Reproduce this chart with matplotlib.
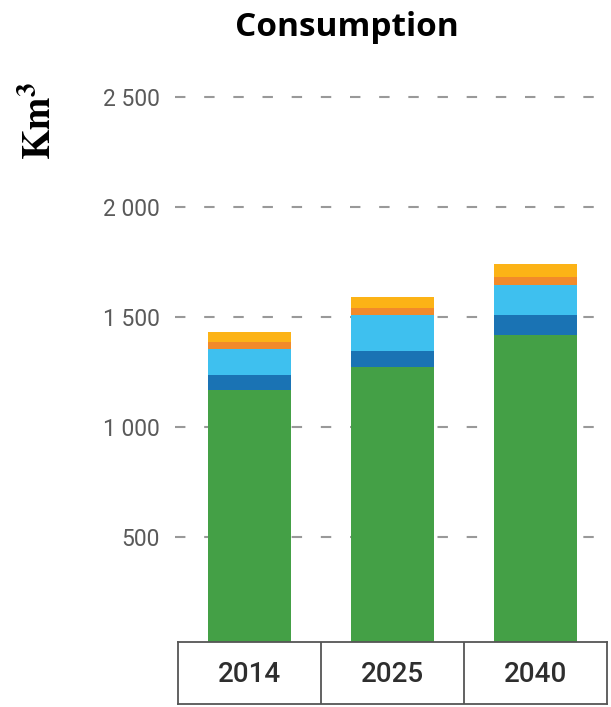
import matplotlib
matplotlib.use("Agg")
import matplotlib.pyplot as plt
import numpy as np

categories = ["2014", "2025", "2040"]
green = [1168, 1273, 1418]
dark_blue = [68, 72, 91]
light_blue = [119, 164, 136]
orange = [31, 32, 37]
yellow = [46, 50, 59]
yticks = [500, 1000, 1500, 2000, 2500]
ytick_labels = ["500", "1 000", "1 500", "2 000", "2 500"]

series = [green, dark_blue, light_blue, orange, yellow]
colors = ["#44a046", "#1a73b4", "#3ec0ef", "#f28a2a", "#fcb316"]

plt.rcParams['mathtext.fontset'] = 'stix'
fig = plt.figure(figsize=(6.11, 7.07), dpi=100)
ax = fig.add_axes([175/611, 65/707, 436/611, 558/707])

x = np.arange(len(categories))
bottom = np.zeros(len(categories))
for vals, c in zip(series, colors):
    ax.bar(x, vals, width=0.58, bottom=bottom, color=c, zorder=3)
    bottom += np.array(vals)

ax.set_xlim(-0.52, 2.53)
ax.set_ylim(22, 2560)
ax.set_yticks(yticks)
ax.set_yticklabels(ytick_labels, fontfamily="Roboto", fontsize=16.5, color="#5a5a5a")
ax.tick_params(axis='y', length=0, pad=11)
ax.set_xticks([])
for s in ax.spines.values():
    s.set_visible(False)
ax.grid(axis='y', color="#999999", linestyle=(0, (5, 9)), linewidth=1.5, zorder=0)

fig.text(347/611, 1 - 27/707, "Consumption", ha="center", va="center",
         fontfamily="Open Sans", fontweight="bold", fontsize=24)
fig.text(40/611, 1 - 121/707, r"$\mathbf{Km}^{\mathbf{3}}$", rotation=90,
         ha="center", va="center", fontsize=28)

# category table below the axes
tax = fig.add_axes([178/611, 3/707, 429/611, 62/707])
tax.set_xlim(-0.5, 2.5)
tax.set_ylim(0, 1)
tax.set_xticks([])
tax.set_yticks([])
for s in tax.spines.values():
    s.set_color("#555555")
    s.set_linewidth(1.3)
for i in range(1, len(categories)):
    tax.axvline(i - 0.5, color="#555555", linewidth=1.3)
for i, c in enumerate(categories):
    tax.text(i, 0.47, c, ha="center", va="center", fontfamily="Roboto",
             fontweight="medium", fontsize=20, color="#2e2e2e")

fig.savefig("out.png", dpi=100, facecolor="white")
